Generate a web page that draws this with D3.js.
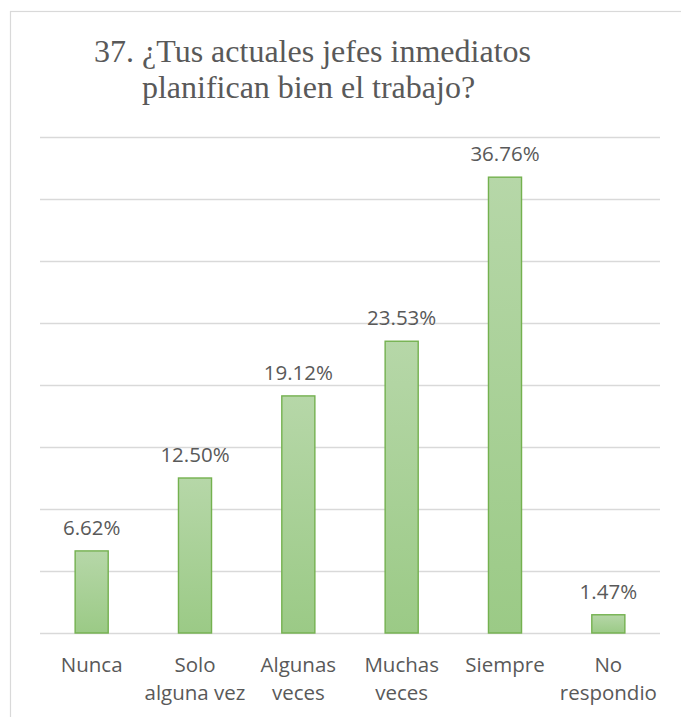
<!DOCTYPE html>
<html>
<head>
<meta charset="utf-8">
<script src="https://cdn.jsdelivr.net/npm/d3@7"></script>
<style>
  html, body { margin: 0; padding: 0; background: #fff; }
  svg { display: block; }
</style>
</head>
<body>
<svg id="chart" width="681" height="717"></svg>
<script>
// Survey question 37: share of answers per category (%)
const categories = ["Nunca", "Solo alguna vez", "Algunas veces", "Muchas veces", "Siempre", "No respondio"];
const categoryLines = [["Nunca"], ["Solo", "alguna vez"], ["Algunas", "veces"], ["Muchas", "veces"], ["Siempre"], ["No", "respondio"]];
const values = [6.62, 12.50, 19.12, 23.53, 36.76, 1.47];
const valueLabels = ["6.62%", "12.50%", "19.12%", "23.53%", "36.76%", "1.47%"];
const gridTicks = [0, 5, 10, 15, 20, 25, 30, 35, 40];
const titleLines = ["37. ¿Tus actuales jefes inmediatos", "planifican bien el trabajo?"];

const svg = d3.select("#chart");
const textColor = "#595959";
const labelFont = "'Open Sans', 'Noto Sans', sans-serif";
const labelSize = 20.5;

// chart frame (runs off the right and bottom edges)
svg.append("rect")
  .attr("x", 10.5).attr("y", 11.5)
  .attr("width", 700).attr("height", 720)
  .attr("fill", "#fff")
  .attr("stroke", "#d9d9d9").attr("stroke-width", 1.2);

// title
const titleX = [312.5, 308.5];
svg.append("g").selectAll("text")
  .data(titleLines)
  .join("text")
  .attr("x", (d, i) => titleX[i])
  .attr("y", (d, i) => 62 + i * 36)
  .attr("text-anchor", "middle")
  .attr("font-family", "'Liberation Serif', 'Times New Roman', serif")
  .attr("font-size", 32)
  .attr("fill", textColor)
  .text(d => d);

const plot = { left: 40, right: 660, top: 137, bottom: 633 };

const x = d3.scaleBand()
  .domain(categories)
  .range([plot.left, plot.right])
  .paddingInner(0.68)
  .paddingOuter(0.34);

const y = d3.scaleLinear()
  .domain([0, 40])
  .range([plot.bottom, plot.top]);

// horizontal gridlines
svg.append("g").selectAll("line")
  .data(gridTicks)
  .join("line")
  .attr("x1", plot.left).attr("x2", plot.right)
  .attr("y1", d => Math.round(y(d)) + 0.5)
  .attr("y2", d => Math.round(y(d)) + 0.5)
  .attr("stroke", "#d9d9d9")
  .attr("stroke-width", 1.5);

// bar gradient
const defs = svg.append("defs");
const grad = defs.append("linearGradient")
  .attr("id", "barFill")
  .attr("x1", 0).attr("y1", 0).attr("x2", 0).attr("y2", 1);
grad.append("stop").attr("offset", "0%").attr("stop-color", "#b6d7a8");
grad.append("stop").attr("offset", "100%").attr("stop-color", "#9bca86");

const rows = categories.map((c, i) => ({ cat: c, value: values[i], label: valueLabels[i], lines: categoryLines[i] }));

// bars
svg.append("g").selectAll("rect")
  .data(rows)
  .join("rect")
  .attr("x", d => x(d.cat))
  .attr("y", d => y(d.value))
  .attr("width", x.bandwidth())
  .attr("height", d => y(0) - y(d.value))
  .attr("fill", "url(#barFill)")
  .attr("stroke", "#74b14f")
  .attr("stroke-width", 1.4);

// value labels
svg.append("g").selectAll("text")
  .data(rows)
  .join("text")
  .attr("x", d => x(d.cat) + x.bandwidth() / 2)
  .attr("y", d => y(d.value) - 16)
  .attr("text-anchor", "middle")
  .attr("font-family", labelFont)
  .attr("font-size", labelSize)
  .attr("fill", textColor)
  .text(d => d.label);

// category labels
const catG = svg.append("g").selectAll("text")
  .data(rows)
  .join("text")
  .attr("x", d => x(d.cat) + x.bandwidth() / 2)
  .attr("y", 672)
  .attr("text-anchor", "middle")
  .attr("font-family", labelFont)
  .attr("font-size", labelSize)
  .attr("fill", textColor);

catG.selectAll("tspan")
  .data(d => d.lines.map(l => ({ l, cx: x(d.cat) + x.bandwidth() / 2 })))
  .join("tspan")
  .attr("x", d => d.cx)
  .attr("dy", (d, i) => i === 0 ? 0 : 28)
  .text(d => d.l);
</script>
</body>
</html>
